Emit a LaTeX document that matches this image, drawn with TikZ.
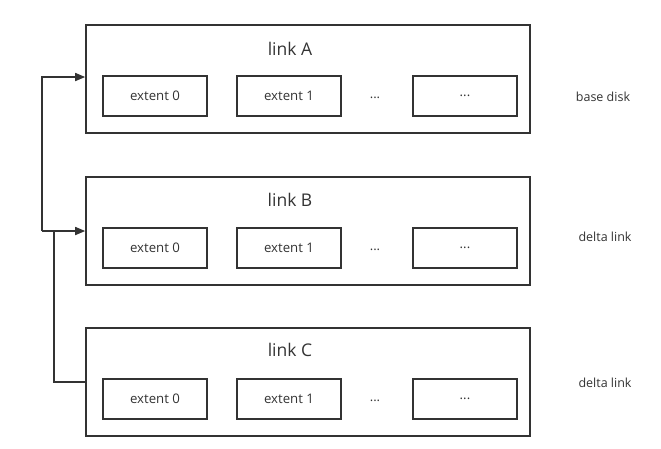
\documentclass[tikz,border=0pt]{standalone}
\usepackage{fontspec}
\setmainfont{Open Sans}
\usetikzlibrary{arrows.meta}
\definecolor{ink}{HTML}{333333}
\begin{document}
\begin{tikzpicture}[x=1pt,y=-1pt,
  linkbox/.style={draw=ink,line width=1.6pt,minimum width=444pt,minimum height=108pt,inner sep=0pt},
  extbox/.style={draw=ink,line width=1.6pt,minimum width=104pt,minimum height=40pt,inner sep=0pt,font=\fontsize{13.2}{15}\selectfont,text=ink},
  title/.style={font=\fontsize{17.5}{20}\selectfont,text=ink},
  dots/.style={font=\fontsize{13}{15}\selectfont,text=ink},
  side/.style={font=\fontsize{12.5}{15}\selectfont,text=ink},
  conn/.style={draw=ink,line width=1.6pt},
  arr/.style={conn,-{Triangle[length=10pt,width=8pt]}}]
\useasboundingbox (0,0) rectangle (661,448);
% link boxes
\node[linkbox] (A) at (308,79) {};
\node[linkbox] (B) at (308,231) {};
\node[linkbox] (C) at (308,382) {};
\node[title] (tA) at (290,49) {link A};
\node[title] (tB) at (290,200) {link B};
\node[title] (tC) at (290,350) {link C};
% extents
\node[extbox] (a0) at (155,96) {extent 0};
\node[extbox] (a1) at (289,96) {extent 1};
\node[dots] (ad) at (375,98) {...};
\node[extbox] (a3) at (465,96) {...};
\node[extbox] (b0) at (155,248) {extent 0};
\node[extbox] (b1) at (289,248) {extent 1};
\node[dots] (bd) at (375,250) {...};
\node[extbox] (b3) at (465,248) {...};
\node[extbox] (c0) at (155,399) {extent 0};
\node[extbox] (c1) at (289,399) {extent 1};
\node[dots] (cd) at (375,401) {...};
\node[extbox] (c3) at (465,399) {...};
% side labels
\node[side] (sA) at (603,97) {base disk};
\node[side] (sB) at (605,237) {delta link};
\node[side] (sC) at (605,383) {delta link};
% connectors
\coordinate (j) at (42,231);
\coordinate (k) at (54,231);
\draw[conn] (C.west) -| (k);
\draw[arr] (j) -- (B.west);
\draw[arr] (j) |- ([yshift=2pt]A.west);
\end{tikzpicture}
\end{document}
